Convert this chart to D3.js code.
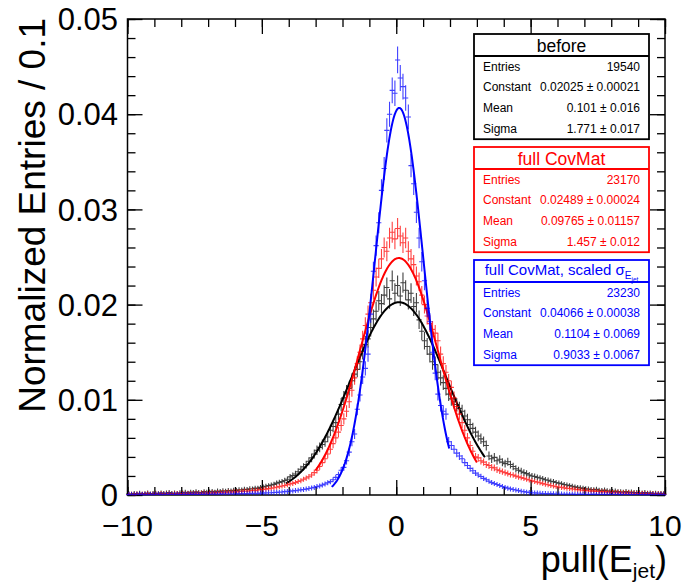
<!DOCTYPE html>
<html>
<head>
<meta charset="utf-8">
<script src="https://cdn.jsdelivr.net/npm/d3@7"></script>
<style>
body { margin: 0; background: #fff; }
text { font-family: "Liberation Sans", Arial, Helvetica, sans-serif; }
</style>
</head>
<body>
<div id="chart-area"></div>
<script>
const SVG_WIDTH = 685;
const SVG_HEIGHT = 583;

// histogram binning: 200 bins of 0.1 from -10 to 10
const BIN_LO = -10;
const BIN_W = 0.1;

const seriesColors = ["#000000", "#ff0000", "#0000ff"];
const entries = [19540, 23170, 23230];

// bin contents, in units of 1e-5 (normalized entries)
const before = [
  12, 8, 15, 10, 18, 9, 14, 20, 11, 16,
  18, 13, 22, 15, 20, 25, 17, 21, 14, 24,
  22, 28, 19, 30, 25, 33, 27, 24, 35, 30,
  32, 38, 29, 41, 36, 44, 39, 47, 42, 50,
  48, 55, 52, 61, 58, 66, 63, 72, 70, 80,
  85, 92, 98, 105, 112, 125, 133, 140, 152, 165,
  190, 205, 220, 245, 270, 295, 320, 355, 390, 430,
  470, 500, 530, 560, 610, 680, 720, 760, 850, 950,
  1020, 1080, 1120, 1200, 1270, 1320, 1400, 1510, 1580, 1640,
  1760, 1850, 1930, 2040, 2010, 2100, 2180, 2060, 2250, 2120,
  2200, 2090, 2230, 2150, 2050, 2120, 1980, 2020, 1840, 1720,
  1620, 1560, 1480, 1400, 1370, 1290, 1230, 1180, 1120, 1060,
  1010, 980, 950, 910, 880, 830, 790, 740, 700, 660,
  620, 590, 560, 520, 410, 380, 395, 360, 375, 345,
  330, 350, 320, 300, 275, 260, 250, 235, 225, 210,
  200, 195, 185, 178, 170, 160, 155, 145, 140, 132,
  125, 118, 110, 105, 98, 92, 85, 80, 75, 70,
  66, 62, 58, 55, 60, 50, 46, 52, 44, 40,
  38, 42, 35, 33, 30, 36, 28, 31, 25, 27,
  24, 20, 26, 18, 22, 15, 19, 14, 17, 12
];
const fullCovMat = [
  5, 8, 4, 10, 6, 9, 7, 12, 5, 8,
  10, 7, 13, 9, 11, 14, 8, 12, 15, 10,
  14, 11, 17, 13, 16, 19, 15, 18, 21, 17,
  20, 23, 19, 26, 24, 28, 25, 31, 29, 34,
  33, 37, 36, 41, 40, 45, 48, 46, 52, 56,
  58, 62, 67, 71, 76, 82, 88, 95, 100, 108,
  115, 122, 130, 142, 150, 165, 178, 192, 210, 235,
  260, 300, 340, 380, 430, 480, 540, 600, 660, 730,
  800, 880, 980, 1100, 1230, 1380, 1500, 1640, 1780, 1900,
  2020, 2150, 2290, 2380, 2480, 2600, 2560, 2700, 2760, 2690,
  2800, 2720, 2650, 2700, 2560, 2480, 2420, 2300, 2240, 2100,
  2000, 1880, 1800, 1740, 1700, 1620, 1480, 1380, 1290, 1200,
  1130, 1020, 930, 850, 760, 680, 600, 520, 460, 400,
  390, 360, 345, 320, 310, 290, 285, 265, 255, 245,
  235, 225, 215, 210, 198, 190, 182, 175, 165, 158,
  150, 142, 135, 128, 120, 113, 108, 100, 95, 88,
  84, 80, 75, 70, 68, 63, 60, 56, 53, 50,
  47, 45, 41, 44, 38, 36, 33, 35, 30, 29,
  27, 25, 28, 22, 24, 20, 23, 18, 19, 16,
  15, 17, 13, 14, 11, 12, 9, 13, 10, 8
];
const scaledCovMat = [
  4, 6, 3, 5, 7, 4, 6, 3, 5, 4,
  5, 7, 4, 6, 5, 8, 6, 5, 7, 6,
  6, 8, 7, 5, 9, 7, 8, 6, 9, 8,
  8, 10, 9, 11, 8, 12, 10, 11, 13, 12,
  12, 14, 13, 15, 14, 17, 16, 18, 17, 20,
  20, 22, 24, 23, 26, 28, 30, 32, 35, 38,
  40, 43, 46, 50, 54, 58, 62, 68, 74, 80,
  88, 95, 105, 115, 128, 140, 160, 185, 215, 260,
  290, 360, 450, 560, 640, 900, 1050, 1240, 1330, 1480,
  1900, 2350, 2620, 2860, 3200, 3430, 3830, 4000, 4250, 4220,
  4570, 4380, 4290, 4170, 3970, 3460, 3270, 2970, 2700, 2450,
  2250, 1960, 1820, 1500, 1280, 1060, 940, 880, 850, 560,
  520, 480, 440, 410, 380, 340, 310, 280, 255, 230,
  210, 195, 175, 160, 145, 130, 120, 110, 100, 90,
  80, 72, 64, 58, 52, 46, 40, 35, 30, 26,
  24, 22, 20, 18, 16, 15, 13, 14, 12, 11,
  10, 11, 9, 10, 8, 9, 7, 8, 9, 7,
  8, 6, 7, 9, 6, 7, 5, 8, 6, 7,
  6, 5, 7, 4, 6, 5, 6, 4, 5, 6,
  5, 4, 6, 3, 5, 4, 3, 5, 4, 3
];

// gaussian fit results, as printed in the stat boxes
const fitConstant = [0.02025, 0.02489, 0.04066];
const fitMean = [0.101, 0.09765, 0.1104];
const fitSigma = [1.771, 1.457, 0.9033];
const fitRange = [[-4.1, 3.3], [-3.0, 3.0], [-2.4, 1.97]];

const statLabels = ["Entries", "Constant", "Mean", "Sigma"];
const statValues = [
  ["19540", "0.02025 \u00b1 0.00021", "0.101 \u00b1 0.016", "1.771 \u00b1 0.017"],
  ["23170", "0.02489 \u00b1 0.00024", "0.09765 \u00b1 0.01157", "1.457 \u00b1 0.012"],
  ["23230", "0.04066 \u00b1 0.00038", "0.1104 \u00b1 0.0069", "0.9033 \u00b1 0.0067"]
];

const xTicks = [-10, -5, 0, 5, 10];
const yTicks = [0, 0.01, 0.02, 0.03, 0.04, 0.05];

const frame = { left: 127.5, right: 665, top: 19, bottom: 495 };

const svg = d3.select("#chart-area").append("svg")
  .attr("width", SVG_WIDTH).attr("height", SVG_HEIGHT);

const x = d3.scaleLinear().domain([-10, 10]).range([frame.left, frame.right]);
const y = d3.scaleLinear().domain([0, 0.05]).range([frame.bottom, frame.top]);

// ---- axes (ROOT style: ticks inside, on all four sides)
function tickAxis(axis, transform) {
  const g = svg.append("g").attr("transform", transform).call(axis);
  g.select(".domain").remove();
  g.selectAll("line").attr("stroke", "#000").attr("stroke-width", 1.3);
  g.selectAll("text").remove();
  return g;
}
const xMinor = d3.range(-10, 10.5, 1);
const yMinor = d3.range(0, 0.0501, 0.002);
tickAxis(d3.axisTop(x).tickValues(xMinor).tickSize(8), `translate(0,${frame.bottom})`);
tickAxis(d3.axisTop(x).tickValues(xTicks).tickSize(15), `translate(0,${frame.bottom})`);
tickAxis(d3.axisBottom(x).tickValues(xMinor).tickSize(8), `translate(0,${frame.top})`);
tickAxis(d3.axisBottom(x).tickValues(xTicks).tickSize(15), `translate(0,${frame.top})`);
tickAxis(d3.axisRight(y).tickValues(yMinor).tickSize(8), `translate(${frame.left},0)`);
tickAxis(d3.axisRight(y).tickValues(yTicks).tickSize(15), `translate(${frame.left},0)`);
tickAxis(d3.axisLeft(y).tickValues(yMinor).tickSize(8), `translate(${frame.right},0)`);
tickAxis(d3.axisLeft(y).tickValues(yTicks).tickSize(15), `translate(${frame.right},0)`);

svg.append("rect")
  .attr("x", frame.left).attr("y", frame.top)
  .attr("width", frame.right - frame.left).attr("height", frame.bottom - frame.top)
  .attr("fill", "none").attr("stroke", "#000").attr("stroke-width", 1.5);

// tick labels
svg.append("g").selectAll("text").data(xTicks).enter().append("text")
  .attr("x", d => x(d)).attr("y", 536)
  .attr("text-anchor", "middle").attr("font-size", "30px")
  .text(d => d < 0 ? "\u2212" + Math.abs(d) : d);

svg.append("g").selectAll("text").data(yTicks).enter().append("text")
  .attr("x", 118).attr("y", d => y(d))
  .attr("dy", "0.36em")
  .attr("text-anchor", "end").attr("font-size", "31px")
  .text(d => d === 0 ? "0" : d3.format(".2f")(d));

// axis titles
svg.append("text")
  .attr("transform", `translate(45,${frame.top - 1}) rotate(-90)`)
  .attr("text-anchor", "end").attr("font-size", "37px")
  .text("Normalized Entries / 0.1");

const xTitle = svg.append("text")
  .attr("x", frame.right + 2).attr("y", 572)
  .attr("text-anchor", "end").attr("font-size", "36px");
xTitle.append("tspan").text("pull(E");
xTitle.append("tspan").attr("font-size", "21px").attr("dy", 6).text("jet");
xTitle.append("tspan").attr("dy", -6).text(")");

// ---- histograms with error bars, then fits
const series = [before, fullCovMat, scaledCovMat];
const plot = svg.append("g");

series.forEach((vals, s) => {
  const p = d3.path();
  vals.forEach((v, i) => {
    const val = v * 1e-5;
    const c = BIN_LO + BIN_W * (i + 0.5);
    const err = Math.sqrt(val / entries[s]);
    const cx = x(c);
    const hi = Math.min(y(val + err), y(val) - 2.5);
    const lo = Math.max(y(Math.max(val - err, 0)), y(val) + 2.5);
    p.moveTo(cx, Math.min(lo, frame.bottom));
    p.lineTo(cx, hi);
    p.moveTo(cx - 2.6, y(val));
    p.lineTo(cx + 2.6, y(val));
  });
  plot.append("path")
    .attr("d", p.toString())
    .attr("fill", "none")
    .attr("stroke", seriesColors[s])
    .attr("stroke-opacity", 0.75)
    .attr("stroke-width", 1.1);

  const [a, b] = fitRange[s];
  const pts = d3.range(0, 201).map(k => {
    const xv = a + (b - a) * k / 200;
    const z = (xv - fitMean[s]) / fitSigma[s];
    return [xv, fitConstant[s] * Math.exp(-0.5 * z * z)];
  });
  plot.append("path")
    .datum(pts)
    .attr("d", d3.line().x(d => x(d[0])).y(d => y(d[1])))
    .attr("fill", "none")
    .attr("stroke", seriesColors[s])
    .attr("stroke-width", 2);
});

// ---- stat boxes
const boxLeft = 474, boxRight = 649;
const boxTops = [34, 147, 260];
const titleH = 22, rowH = 20.8;

boxTops.forEach((top, s) => {
  const col = seriesColors[s];
  const g = svg.append("g");
  g.append("rect")
    .attr("x", boxLeft).attr("y", top)
    .attr("width", boxRight - boxLeft).attr("height", titleH + 4 * rowH)
    .attr("fill", "#fff").attr("stroke", col).attr("stroke-width", 1.8);
  g.append("line")
    .attr("x1", boxLeft).attr("x2", boxRight)
    .attr("y1", top + titleH).attr("y2", top + titleH)
    .attr("stroke", col).attr("stroke-width", 1.8);

  const t = g.append("text")
    .attr("x", (boxLeft + boxRight) / 2).attr("y", top + 17.5)
    .attr("text-anchor", "middle").attr("fill", col);
  if (s === 0) t.attr("font-size", "17.5px").text("before");
  if (s === 1) t.attr("font-size", "17.5px").text("full CovMat");
  if (s === 2) {
    t.attr("font-size", "15px").attr("y", top + 14.5);
    t.append("tspan").text("full CovMat, scaled \u03c3");
    t.append("tspan").attr("font-size", "10px").attr("dy", 4).text("E");
    t.append("tspan").attr("font-size", "6.5px").attr("dy", 3).text("jet");
  }

  statLabels.forEach((lab, r) => {
    const by = top + titleH + rowH * r + 14.5;
    g.append("text").attr("x", boxLeft + 9).attr("y", by)
      .attr("font-size", "12px").attr("fill", col).text(lab);
    g.append("text").attr("x", boxRight - 9).attr("y", by)
      .attr("text-anchor", "end")
      .attr("font-size", "12px").attr("fill", col).text(statValues[s][r]);
  });
});
</script>
</body>
</html>
